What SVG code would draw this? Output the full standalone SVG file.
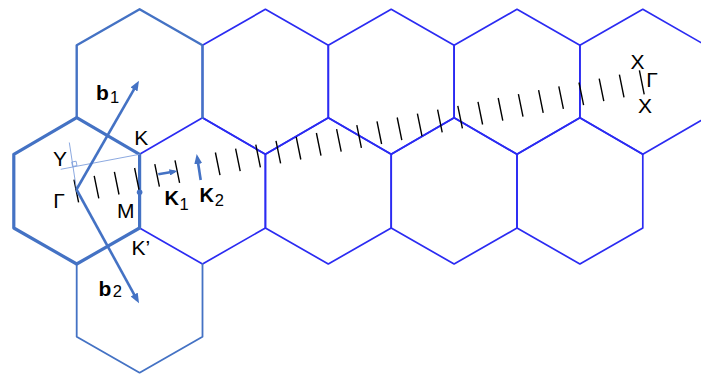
<svg xmlns="http://www.w3.org/2000/svg" width="701" height="374" viewBox="0 0 701 374">
<style>
.hx{fill:none;stroke:#2b2bf2;stroke-width:1.7;stroke-linejoin:round}
.sb{fill:none;stroke:#4472c4;stroke-linejoin:round;stroke-linecap:round}
.tick{fill:none;stroke:#000;stroke-width:1.4}
.vec{fill:none;stroke:#4472c4;stroke-width:2.6}
.thin{fill:none;stroke:#7f9fdc;stroke-width:0.9}
.lbl{font-family:"Liberation Sans",Arial,sans-serif;font-size:21px;fill:#000}
.bold{font-family:"Liberation Sans",Arial,sans-serif;font-weight:bold;fill:#000}
.sub{font-family:"Liberation Sans",Arial,sans-serif;font-size:16.5px;fill:#000}
</style>
<defs>
<marker id="ah" markerUnits="userSpaceOnUse" viewBox="0 0 10 8" markerWidth="10" markerHeight="8" refX="6" refY="4" orient="auto">
<path d="M0,0 L10,4 L0,8 z" fill="#4472c4"/>
</marker>
<marker id="ahs" markerUnits="userSpaceOnUse" viewBox="0 0 8 6.5" markerWidth="8" markerHeight="6.5" refX="5" refY="3.25" orient="auto">
<path d="M0,0 L8,3.25 L0,6.5 z" fill="#4472c4"/>
</marker>
</defs>
<rect width="701" height="374" fill="#fff"/>
<g id="lattice">
<polygon id="h-r1-4" class="hx" points="265.4,9.3 328.3,45.3 328.3,117.7 265.4,154.3 202.5,117.7 202.5,45.3"/>
<polygon id="h-r1-6" class="hx" points="391.2,9.3 454.1,45.3 454.1,117.7 391.2,154.3 328.3,117.7 328.3,45.3"/>
<polygon id="h-r1-8" class="hx" points="517,9.3 579.9,45.3 579.9,117.7 517,154.3 454.1,117.7 454.1,45.3"/>
<polygon id="h-r1-10" class="hx" points="642.8,9.3 705.7,45.3 705.7,117.7 642.8,154.3 579.9,117.7 579.9,45.3"/>
<polygon id="h-r2-3" class="hx" points="202.5,117.7 265.4,154.3 265.4,228 202.5,264 139.6,228 139.6,154.3"/>
<polygon id="h-r2-5" class="hx" points="328.3,117.7 391.2,154.3 391.2,228 328.3,264 265.4,228 265.4,154.3"/>
<polygon id="h-r2-7" class="hx" points="454.1,117.7 517,154.3 517,228 454.1,264 391.2,228 391.2,154.3"/>
<polygon id="h-r2-9" class="hx" points="579.9,117.7 642.8,154.3 642.8,228 579.9,264 517,228 517,154.3"/>
</g>
<g id="bz">
<path id="h-top" class="sb" stroke-width="2.4" d="M76.7,117.7 L76.7,45.3 L139.6,9.3 L202.5,45.3 L202.5,117.7"/>
<path id="h-bottom" class="sb" stroke-width="1.8" d="M202.5,264 L202.5,336.7 L139.6,372.7 L76.7,336.7 L76.7,264"/>
<polygon id="h-center" class="sb" stroke-width="3.2" points="76.7,117.7 139.6,154.3 139.6,228 76.7,264 13.8,228 13.8,154.3"/>
</g>
<g id="connectors">
<path id="gamma-path" class="tick" d="M74.0,179.7 l4.6,22.6 M94.2,175.8 l4.6,22.6 M114.4,171.9 l4.6,22.6 M134.6,168.0 l4.6,22.6 M154.8,164.1 l4.6,22.6 M175.0,160.3 l4.6,22.6 M215.4,152.5 l4.6,22.6 M235.6,148.6 l4.6,22.6 M255.8,144.7 l4.6,22.6 M276.0,140.8 l4.6,22.6 M296.2,136.9 l4.6,22.6 M316.4,133.0 l4.6,22.6 M336.6,129.1 l4.6,22.6 M356.8,125.2 l4.6,22.6 M377.0,121.4 l4.6,22.6 M397.2,117.5 l4.6,22.6 M417.4,113.6 l4.6,22.6 M437.6,109.7 l4.6,22.6 M457.8,105.8 l4.6,22.6 M478.0,101.9 l4.6,22.6 M498.2,98.0 l4.6,22.6 M518.4,94.1 l4.6,22.6 M538.6,90.2 l4.6,22.6 M558.8,86.3 l4.6,22.6 M579.0,82.5 l4.6,22.6 M599.2,78.6 l4.6,22.6 M619.4,74.7 l4.6,22.6 M639.4,70.3 l4.8,24"/>
<line class="thin" x1="60.7" y1="169.3" x2="139.6" y2="154.3"/>
<line class="thin" x1="69.3" y1="142.5" x2="76.5" y2="189.5"/>
<polygon class="thin" points="72.6,166.5 77,165.6 76.1,161.2 71.7,162.1"/>
<line id="b1" class="vec" x1="76.5" y1="189.5" x2="137.0" y2="84.2" marker-end="url(#ah)"/>
<line id="b2" class="vec" x1="76.5" y1="189.5" x2="137.1" y2="299.8" marker-end="url(#ah)"/>
<line id="K1" class="vec" x1="158.3" y1="174.3" x2="174.5" y2="171.5" marker-end="url(#ahs)"/>
<line id="K2" class="vec" x1="200.7" y1="180" x2="197.3" y2="158" marker-end="url(#ah)"/>
<circle id="M" cx="139.6" cy="192.3" r="2.8" fill="#4472c4"/>
</g>
<g id="labels">
<text class="bold" font-size="21" x="96" y="100">b</text><text class="sub" x="110" y="103.3">1</text>
<text class="bold" font-size="21" x="98.6" y="296">b</text><text class="sub" x="112.8" y="297.3">2</text>
<text class="bold" font-size="20" x="164.5" y="205">K</text><text class="sub" x="179.5" y="210">1</text>
<text class="bold" font-size="20" x="199.5" y="201.7">K</text><text class="sub" x="214.8" y="206">2</text>
<text class="lbl" text-anchor="middle" x="141.2" y="145">K</text>
<text class="lbl" text-anchor="middle" x="60" y="165.7">Y</text>
<text class="lbl" x="53.2" y="208.3">Γ</text>
<text class="lbl" text-anchor="middle" x="125.8" y="218.3">M</text>
<text class="lbl" text-anchor="middle" x="140.8" y="255">K’</text>
<text class="lbl" text-anchor="middle" x="637.5" y="69">X</text>
<text class="lbl" x="646.2" y="86.7">Γ</text>
<text class="lbl" text-anchor="middle" x="645" y="113.3">X</text>
</g>
</svg>
